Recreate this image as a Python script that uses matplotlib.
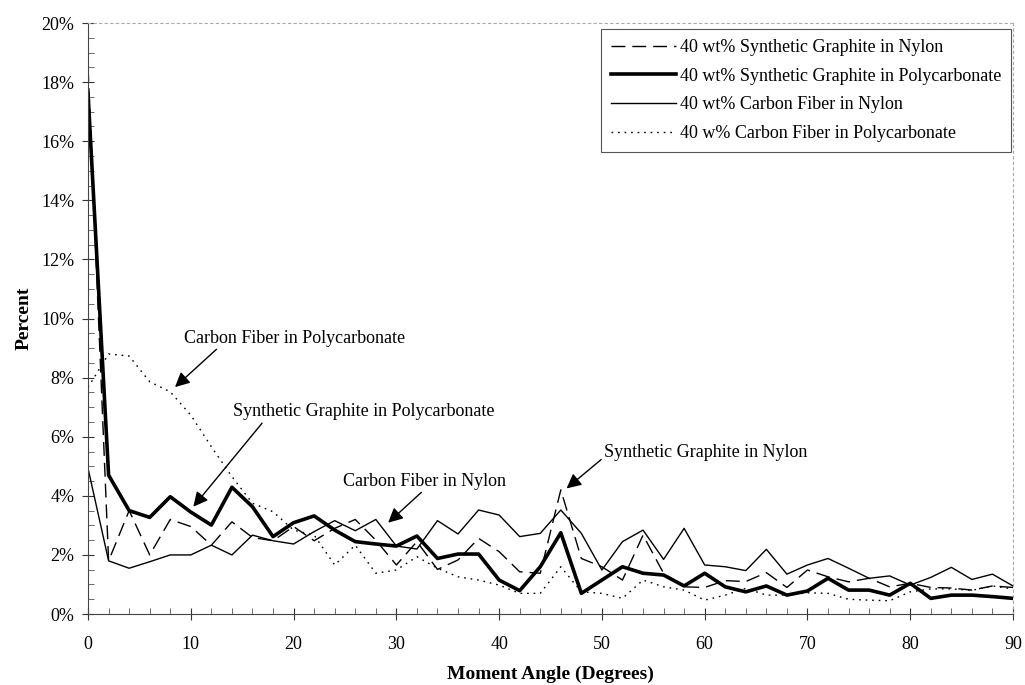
import numpy as np
import matplotlib
matplotlib.use("Agg")
import matplotlib.pyplot as plt
from matplotlib.ticker import MultipleLocator, PercentFormatter

plt.rcParams["font.family"] = ["Liberation Serif", "DejaVu Serif"]

# Moment angle, degrees (every 2 degrees)
angles = np.arange(0, 92, 2)

# Percent of samples at each moment angle
sg_nylon = [18.5, 1.8, 3.5, 2.0, 3.2, 2.96, 2.33, 3.12, 2.59, 2.48,
            2.96, 2.48, 2.9, 3.2, 2.5, 1.66, 2.45, 1.51, 1.83, 2.56,
            2.11, 1.43, 1.38, 4.2, 1.88, 1.6, 1.15, 2.67, 1.38, 0.92,
            0.9, 1.13, 1.1, 1.4, 0.9, 1.49, 1.26, 1.09, 1.21, 0.92,
            1.04, 0.9, 0.88, 0.81, 0.95, 0.9]
sg_pc = [17.6, 4.7, 3.5, 3.27, 3.97, 3.45, 3.01, 4.29, 3.63, 2.62,
         3.09, 3.32, 2.84, 2.45, 2.37, 2.3, 2.64, 1.88, 2.03, 2.03,
         1.15, 0.79, 1.6, 2.75, 0.7, 1.15, 1.6, 1.38, 1.32, 0.95,
         1.38, 0.92, 0.75, 0.95, 0.64, 0.78, 1.21, 0.81, 0.81, 0.64,
         1.04, 0.53, 0.64, 0.64, 0.59, 0.53]
cf_nylon = [4.93, 1.8, 1.55, 1.77, 2.0, 2.0, 2.33, 2.0, 2.67, 2.48,
            2.37, 2.79, 3.16, 2.82, 3.2, 2.3, 2.2, 3.16, 2.71, 3.52,
            3.35, 2.62, 2.73, 3.52, 2.73, 1.49, 2.45, 2.84, 1.85, 2.9,
            1.66, 1.6, 1.47, 2.19, 1.35, 1.66, 1.88, 1.55, 1.21, 1.29,
            0.98, 1.24, 1.58, 1.17, 1.35, 0.95]
cf_pc = [7.67, 8.8, 8.73, 7.86, 7.52, 6.73, 5.66, 4.65, 3.75, 3.46,
         2.84, 2.67, 1.66, 2.33, 1.38, 1.49, 1.94, 1.55, 1.26, 1.15,
         0.98, 0.7, 0.7, 1.6, 0.75, 0.7, 0.53, 1.15, 0.92, 0.81,
         0.47, 0.64, 0.87, 0.64, 0.64, 0.72, 0.7, 0.5, 0.47, 0.45,
         0.75, 0.85, 0.85, 0.8, 0.95, 0.85]

legend_labels = ["40 wt% Synthetic Graphite in Nylon",
                 "40 wt% Synthetic Graphite in Polycarbonate",
                 "40 wt% Carbon Fiber in Nylon",
                 "40 w% Carbon Fiber in Polycarbonate"]

fig = plt.figure(figsize=(10.25, 6.85), dpi=100)
ax = fig.add_axes([0.0859, 0.1036, 0.9024, 0.8628])

ax.plot(angles, sg_nylon, color="black", lw=1.0, dashes=(10, 5), label=legend_labels[0])
ax.plot(angles, sg_pc, color="black", lw=2.6, label=legend_labels[1])
ax.plot(angles, cf_nylon, color="black", lw=1.0, label=legend_labels[2])
ax.plot(angles, cf_pc, color="black", lw=1.0, dashes=(1.2, 3.5), label=legend_labels[3])

ax.set_xlim(0, 90)
ax.set_ylim(0, 20)
ax.xaxis.set_major_locator(MultipleLocator(10))
ax.xaxis.set_minor_locator(MultipleLocator(2))
ax.yaxis.set_major_locator(MultipleLocator(2))
ax.yaxis.set_minor_locator(MultipleLocator(0.5))
ax.yaxis.set_major_formatter(PercentFormatter(decimals=0))
ax.tick_params(which="major", direction="inout", length=8, width=0.8,
               labelsize=13, colors="#333333", labelcolor="black")
ax.tick_params(axis="y", which="major", pad=6)
ax.tick_params(axis="x", which="major", pad=12)
ax.tick_params(which="minor", direction="in", length=4, width=0.6, colors="#555555")

for side in ["top", "right"]:
    ax.spines[side].set_color("#aaaaaa")
    ax.spines[side].set_linestyle((0, (2, 3)))
    ax.spines[side].set_linewidth(0.8)
for side in ["left", "bottom"]:
    ax.spines[side].set_color("#444444")
    ax.spines[side].set_linewidth(0.8)

ax.set_xlabel("Moment Angle (Degrees)", fontsize=14, fontweight="bold")
ax.set_ylabel("Percent", fontsize=14, fontweight="bold")
ax.xaxis.set_label_coords(0.5, -0.088)
ax.yaxis.set_label_coords(-0.06, 0.5)

leg = ax.legend(loc="upper right", bbox_to_anchor=(0.998, 0.99), fontsize=13,
                handlelength=3.6, handletextpad=0.2, labelspacing=0.65,
                borderpad=0.55, borderaxespad=0.0, fancybox=False, framealpha=1)
leg.get_frame().set_edgecolor("#555555")
leg.get_frame().set_linewidth(0.8)

arrow = dict(arrowstyle="-|>", color="black", lw=1.0, mutation_scale=22, shrinkA=0, shrinkB=0)
ax.annotate("Carbon Fiber in Polycarbonate", xy=(8.46, 7.68), xytext=(9.35, 9.34),
            fontsize=13, va="center", ha="left",
            arrowprops=dict(arrow, relpos=(0.16, 0.0)))
ax.annotate("Synthetic Graphite in Polycarbonate", xy=(10.24, 3.63), xytext=(14.1, 6.84),
            fontsize=13, va="center", ha="left",
            arrowprops=dict(arrow, relpos=(0.12, 0.0)))
ax.annotate("Carbon Fiber in Nylon", xy=(29.2, 3.09), xytext=(24.8, 4.5),
            fontsize=13, va="center", ha="left",
            arrowprops=dict(arrow, relpos=(0.5, 0.0)))
ax.annotate("Synthetic Graphite in Nylon", xy=(46.56, 4.25), xytext=(50.2, 5.48),
            fontsize=13, va="center", ha="left",
            arrowprops=dict(arrow, relpos=(0.0, 0.2)))

fig.savefig("out.png", dpi=100)
